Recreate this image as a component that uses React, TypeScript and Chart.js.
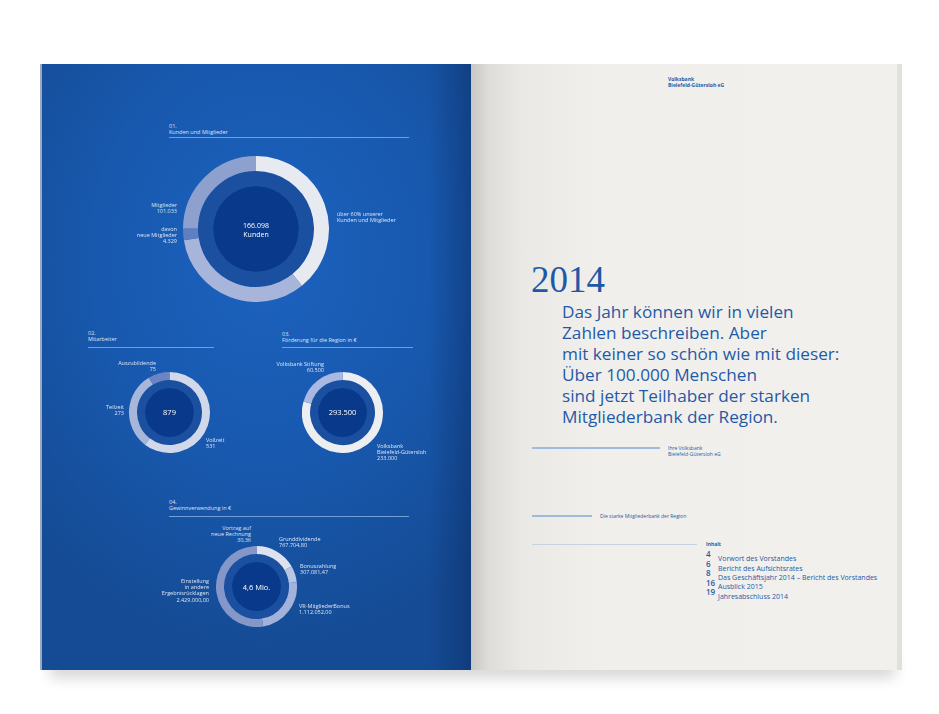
import React, { useEffect, useRef } from "react";
import { Chart, registerables } from "chart.js";

Chart.register(...registerables);

// ---- Data ----
const kundenLabels = ["Kunden (keine Mitglieder)", "Mitglieder", "davon neue Mitglieder", "Mitglieder"];
const kundenValues = [65065, 55400, 4329, 41304];
const kundenColors = ["#e7eaf0", "#a7b5db", "#5f7fc0", "#8ea1ce"];

const mitarbeiterLabels = ["Vollzeit", "Teilzeit", "Auszubildende"];
const mitarbeiterValues = [531, 273, 75];
const mitarbeiterColors = ["#d0d8ea", "#a8b6da", "#6c85c2"];

const foerderungLabels = ["Volksbank Bielefeld-Gütersloh", "Volksbank Stiftung"];
const foerderungValues = [233000, 60500];
const foerderungColors = ["#eceef2", "#a9b9e2"];

const gewinnLabels = [
  "Grunddividende",
  "Bonuszahlung",
  "VR-MitgliederBonus",
  "Einstellung in andere Ergebnisrücklagen",
  "Vortrag auf neue Rechnung",
];
const gewinnValues = [767704.8, 307081.47, 1112052.0, 2429000.0, 30.36];
const gewinnColors = ["#dde2ee", "#b9c5e5", "#a2b2da", "#8597c9", "#8597c9"];

const tocPages = ["4", "6", "8", "16", "19"];
const tocTitles = [
  "Vorwort des Vorstandes",
  "Bericht des Aufsichtsrates",
  "Das Geschäftsjahr 2014 – Bericht des Vorstandes",
  "Ausblick 2015",
  "Jahresabschluss 2014",
];

const quoteLines = [
  "Das Jahr können wir in vielen",
  "Zahlen beschreiben. Aber",
  "mit keiner so schön wie mit dieser:",
  "Über 100.000 Menschen",
  "sind jetzt Teilhaber der starken",
  "Mitgliederbank der Region.",
];

const MID_RING = "#1b4f9f";
const CORE = "#09398a";
const SANS = "'Open Sans', 'Noto Sans', sans-serif";

type DonutProps = {
  cx: number;
  cy: number;
  r: number;
  ring: number;
  labels: string[];
  values: number[];
  colors: string[];
};

function Donut({ cx, cy, r, ring, labels, values, colors }: DonutProps) {
  const ref = useRef<HTMLCanvasElement | null>(null);
  useEffect(() => {
    if (!ref.current) return;
    const inner = r - 2 * ring;
    const chart = new Chart(ref.current, {
      type: "doughnut",
      data: {
        labels,
        datasets: [
          { data: values, backgroundColor: colors, borderWidth: 0, weight: ring } as any,
          { data: [1], backgroundColor: [MID_RING], borderWidth: 0, weight: ring } as any,
          { data: [1], backgroundColor: [CORE], borderWidth: 0, weight: inner } as any,
        ],
      },
      options: {
        responsive: false,
        animation: false,
        cutout: 0,
        events: [],
        layout: { padding: 0 },
        plugins: { legend: { display: false }, tooltip: { enabled: false } },
        elements: {
          arc: { borderWidth: 0, hoverOffset: 0, offset: 0, hoverBorderWidth: 0 } as any,
        },
      } as any,
    });
    return () => chart.destroy();
  }, []);
  return (
    <canvas
      ref={ref}
      width={2 * r}
      height={2 * r}
      style={{ position: "absolute", left: cx - r, top: cy - r, width: 2 * r, height: 2 * r }}
    />
  );
}

type TProps = {
  x: number;
  y: number;
  lines: string[];
  align?: "left" | "right" | "center";
  size?: number;
  lh?: number;
  color?: string;
  weight?: number;
  family?: string;
};

function T({ x, y, lines, align = "left", size = 5.5, lh = 6.2, color = "#dde5f4", weight = 400, family = SANS }: TProps) {
  const base: React.CSSProperties = {
    position: "absolute",
    top: y - lh / 2,
    fontFamily: family,
    fontSize: size,
    lineHeight: lh + "px",
    color,
    fontWeight: weight,
    whiteSpace: "nowrap",
  };
  if (align === "left") base.left = x;
  if (align === "right") {
    base.right = 939 - x;
    base.textAlign = "right";
  }
  if (align === "center") {
    base.left = x - 100;
    base.width = 200;
    base.textAlign = "center";
  }
  return (
    <div style={base}>
      {lines.map((l, i) => (
        <div key={i}>{l}</div>
      ))}
    </div>
  );
}

function HLine({ x1, x2, y, color, h = 1 }: { x1: number; x2: number; y: number; color: string; h?: number }) {
  return <div style={{ position: "absolute", left: x1, top: y - h / 2, width: x2 - x1, height: h, background: color }} />;
}

export default function App() {
  const lineBlue = "#6f9fd6";
  const rightBlue = "#1f5aa8";
  return (
    <div
      style={{
        position: "absolute",
        left: 0,
        top: 0,
        width: 939,
        height: 714,
        background: "#ffffff",
        overflow: "hidden",
      }}
    >
      {/* shadow under spread */}
      <div
        style={{
          position: "absolute",
          left: 50,
          top: 650,
          width: 845,
          height: 20,
          boxShadow: "0 8px 14px rgba(0,0,0,0.16)",
        }}
      />
      {/* left page */}
      <div
        style={{
          position: "absolute",
          left: 41,
          top: 64,
          width: 430,
          height: 606,
          background:
            "linear-gradient(to left, rgba(6,28,75,0.32) 0%, rgba(6,28,75,0) 10%), radial-gradient(ellipse 75% 65% at 52% 32%, #1c62be 0%, #1859af 50%, #154b94 100%)",
        }}
      />
      <div style={{ position: "absolute", left: 40, top: 64, width: 2, height: 606, background: "#9aa9c0" }} />
      {/* right page */}
      <div
        style={{
          position: "absolute",
          left: 471,
          top: 64,
          width: 426,
          height: 606,
          background:
            "linear-gradient(to right, #c9c7c3 0%, #dedcd8 4%, #ebe9e5 12%, #f1efeb 30%, #f2f0ec 100%)",
        }}
      />
      <div style={{ position: "absolute", left: 897, top: 64, width: 5, height: 606, background: "#e2e0dc" }} />

      {/* Section 01 */}
      <T x={169} y={126} lines={["01.", "Kunden und Mitglieder"]} />
      <HLine x1={169} x2={409} y={137.5} color={lineBlue} />
      <Donut cx={256} cy={229} r={73} ring={15} labels={kundenLabels} values={kundenValues} colors={kundenColors} />
      <T x={177} y={205} lines={["Mitglieder", "101.033"]} align="right" />
      <T x={177} y={229} lines={["davon", "neue Mitglieder", "4.329"]} align="right" />
      <T x={337} y={214} lines={["über 60% unserer", "Kunden und Mitglieder"]} />
      <T x={256} y={226.5} lines={["166.098", "Kunden"]} align="center" size={7} lh={8.5} color="#ffffff" />

      {/* Section 02 */}
      <T x={88} y={333} lines={["02.", "Mitarbeiter"]} />
      <HLine x1={88} x2={214} y={347} color={lineBlue} />
      <Donut cx={169.5} cy={412} r={40.5} ring={8} labels={mitarbeiterLabels} values={mitarbeiterValues} colors={mitarbeiterColors} />
      <T x={156} y={363} lines={["Auszubildende", "75"]} align="right" />
      <T x={124} y={407} lines={["Teilzeit", "273"]} align="right" />
      <T x={206} y={440} lines={["Vollzeit", "531"]} />
      <T x={169.5} y={412} lines={["879"]} align="center" size={7.5} lh={8} color="#ffffff" />

      {/* Section 03 */}
      <T x={282} y={334} lines={["03.", "Förderung für die Region in €"]} />
      <HLine x1={282} x2={413} y={347} color={lineBlue} />
      <Donut cx={342.5} cy={412} r={40.5} ring={8} labels={foerderungLabels} values={foerderungValues} colors={foerderungColors} />
      <T x={324} y={364} lines={["Volksbank Stiftung", "60.500"]} align="right" />
      <T x={377} y={446} lines={["Volksbank", "Bielefeld-Gütersloh", "233.000"]} />
      <T x={342.5} y={412} lines={["293.500"]} align="center" size={7.5} lh={8} color="#ffffff" />

      {/* Section 04 */}
      <T x={169} y={502} lines={["04.", "Gewinnverwendung in €"]} />
      <HLine x1={169} x2={409} y={516} color={lineBlue} />
      <Donut cx={256.5} cy={586.5} r={40.5} ring={8} labels={gewinnLabels} values={gewinnValues} colors={gewinnColors} />
      <T x={251} y={528} lines={["Vortrag auf", "neue Rechnung", "30,36"]} align="right" />
      <T x={279} y={539} lines={["Grunddividende", "767.704,80"]} />
      <T x={300} y={566} lines={["Bonuszahlung", "307.081,47"]} />
      <T x={299} y={606} lines={["VR-MitgliederBonus", "1.112.052,00"]} />
      <T x={209} y={581} lines={["Einstellung", "in andere", "Ergebnisrücklagen", "2.429.000,00"]} align="right" />
      <T x={256.5} y={586.5} lines={["4,6 Mio."]} align="center" size={7.5} lh={8} color="#ffffff" />

      {/* Right page */}
      <T x={668} y={79} lines={["Volksbank", "Bielefeld-Gütersloh eG"]} size={5} lh={6} color={rightBlue} weight={700} />
      <div
        style={{
          position: "absolute",
          left: 531,
          top: 258,
          fontFamily: "'Liberation Serif', serif",
          fontSize: 37,
          lineHeight: "44px",
          color: "#1e58a6",
          whiteSpace: "nowrap",
        }}
      >
        2014
      </div>
      <T x={562} y={312.5} lines={quoteLines} size={17.2} lh={20.9} color={rightBlue} />

      <HLine x1={532} x2={660} y={448} color="#9fbbdc" h={1.5} />
      <T x={668} y={448} lines={["Ihre Volksbank", "Bielefeld-Gütersloh eG"]} size={5} lh={6} color={rightBlue} />
      <HLine x1={532} x2={592} y={516} color="#9fbbdc" h={1.5} />
      <T x={600} y={516} lines={["Die starke Mitgliederbank der Region"]} size={5} lh={6} color={rightBlue} />

      <HLine x1={532} x2={697} y={544} color="#c5d2e2" h={1} />
      <T x={706} y={544} lines={["Inhalt"]} size={5} lh={6} color={rightBlue} weight={700} />
      <T x={706} y={554} lines={tocPages} size={8} lh={9.4} color={rightBlue} weight={600} />
      <T x={718} y={559} lines={tocTitles} size={7} lh={9.3} color={rightBlue} />
    </div>
  );
}
